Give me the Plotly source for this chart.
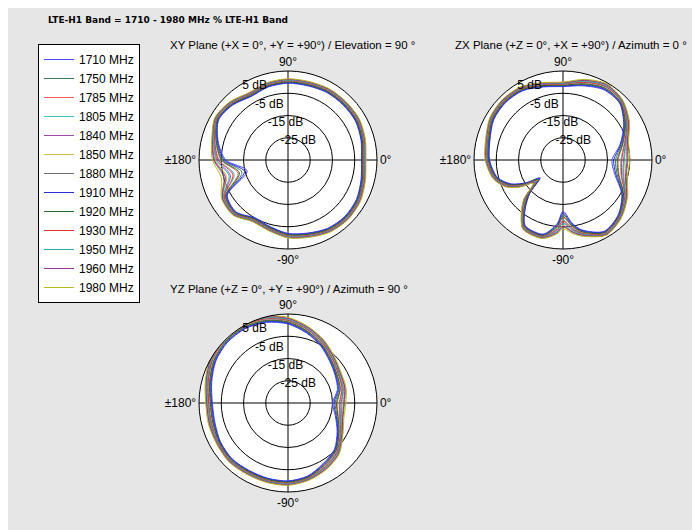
import plotly.graph_objects as go

# Frequencies in the legend, with a colour each
freqs = ["1710 MHz", "1750 MHz", "1785 MHz", "1805 MHz", "1840 MHz", "1850 MHz", "1880 MHz",
         "1910 MHz", "1920 MHz", "1930 MHz", "1950 MHz", "1960 MHz", "1980 MHz"]
colors = ["#4a4aff", "#3f7a5a", "#ff5a5a", "#3fc6c0", "#a04aa8", "#c8c040", "#707070",
          "#2a2ae0", "#2a6a2a", "#e83030", "#30b0b0", "#9a3090", "#b8b820"]
# how far each frequency sits from the middle curve (-1 .. 1, read from the spread)
freq_shift = [-1.0, -0.6, -0.3, 0.0, 0.3, 0.6, 0.8, -0.8, -0.4, 0.1, 0.4, 0.7, 1.0]

# XY plane, gain in dB
xy_angle = [0, 15, 30, 45, 60, 75, 90, 105, 120, 135, 150, 165, 180, 195, 210, 225,
            240, 255, 270, 285, 300, 315, 330, 345]
xy_gain = [-1, 0, 1, 1, 1, 0.5, 0.5, 0, -1, 1, 2, -1, -4, -10, -2, -1,
           -4, -3, -1, 0, 1.5, 2, 1.5, 0]
xy_spread = [1, 1, 1, 1, 1, 1, 1, 1, 1, 1, 1, 1.5, 3, 6, 1.5, 1,
             1, 1, 1, 1, 1, 1, 1, 1]

# ZX plane
zx_angle = [0, 15, 30, 45, 60, 75, 90, 105, 120, 135, 150, 165, 180, 195, 205, 212,
            218, 225, 232, 240, 255, 265, 270, 278, 285, 300, 315, 330, 345]
zx_gain = [-9, -6.5, -2, 2, 3, 1, -1, 0, 2, 2.5, 2, 0, -1, -3.5, -8, -14,
           -20, -12, -6, 0, 0.5, -4, -8, -4, -1, 3, 1, -3, -8]
zx_spread = [4, 2, 1.5, 1, 1.5, 1.5, 1, 1, 1, 1, 1, 1, 1, 1, 1.5, 2,
             2, 2, 1.5, 1, 1, 2.5, 4, 2.5, 1.5, 1, 1, 1.5, 3]

# YZ plane
yz_angle = [0, 15, 30, 45, 60, 75, 90, 105, 120, 135, 150, 165, 180, 195, 210, 225,
            240, 255, 270, 285, 300, 315, 330, 345]
yz_gain = [-12, -10, -9, -7, -4, -1, 2, 4, 5, 5, 4, 2, 0.5, 0.5, 1, 1.5,
           1, 1, 1, 0, -2, -4, -8, -11]
yz_spread = [3, 2, 1.5, 1.5, 1.5, 1.5, 1.5, 1.5, 1.5, 1.5, 1.5, 1.5, 1.5, 1.5, 1, 1,
             1, 1, 1, 1, 1.5, 1.5, 1.5, 2]

planes = [
    ("polar", xy_angle, xy_gain, xy_spread),
    ("polar2", zx_angle, zx_gain, zx_spread),
    ("polar3", yz_angle, yz_gain, yz_spread),
]

fig = go.Figure()

for subplot, angles, gains, spread in planes:
    for i, name in enumerate(freqs):
        r = [g + s * freq_shift[i] for g, s in zip(gains, spread)]
        fig.add_trace(go.Scatterpolar(
            theta=angles + [angles[0]],
            r=r + [r[0]],
            mode="lines",
            line=dict(color=colors[i], width=1, shape="spline", smoothing=0.8),
            name=name,
            legendgroup=name,
            showlegend=(subplot == "polar"),
            subplot=subplot,
        ))

def polar_layout(x0, x1, y0, y1):
    return dict(
        domain=dict(x=[x0 / 700, x1 / 700], y=[1 - y1 / 530, 1 - y0 / 530]),
        bgcolor="white",
        radialaxis=dict(
            range=[-35, 5], tickvals=[-25, -15, -5, 5],
            ticktext=["-25 dB", "-15 dB", "-5 dB", "5 dB"],
            angle=125, tickangle=125, showline=False, gridcolor="black", gridwidth=0.8,
            tickfont=dict(size=12, color="black"), ticks="",
        ),
        angularaxis=dict(
            tickvals=[0, 90, 180, 270], ticktext=["0°", "90°", "±180°", "-90°"],
            direction="counterclockwise", rotation=0, gridcolor="black", gridwidth=0.8,
            linecolor="black", linewidth=1, showline=True, ticks="",
            tickfont=dict(size=12, color="black"),
        ),
    )

fig.update_layout(
    width=700, height=530,
    margin=dict(l=0, r=0, t=0, b=0),
    paper_bgcolor="#e6e6e6",
    font=dict(family="Liberation Sans, Arial", color="black"),
    polar=polar_layout(191, 369, 63, 241),
    polar2=polar_layout(466, 644, 63, 241),
    polar3=polar_layout(191, 369, 306, 484),
    showlegend=True,
    legend=dict(
        x=30 / 700, y=1 - 36 / 530, xanchor="left", yanchor="top",
        bgcolor="white", bordercolor="black", borderwidth=1,
        font=dict(size=12), tracegroupgap=0,
    ),
    annotations=[
        dict(text="<b>LTE-H1 Band = 1710 - 1980 MHz % LTE-H1 Band</b>", x=38 / 700, y=1 - 12 / 530,
             xref="paper", yref="paper", xanchor="left", yanchor="middle", showarrow=False,
             font=dict(size=9, family="DejaVu Sans")),
        dict(text="XY Plane (+X = 0°, +Y = +90°) / Elevation = 90 °", x=160 / 700, y=1 - 45 / 530,
             xref="paper", yref="paper", xanchor="left", yanchor="bottom", showarrow=False,
             font=dict(size=11.5)),
        dict(text="ZX Plane (+Z = 0°, +X = +90°) / Azimuth = 0 °", x=445 / 700, y=1 - 45 / 530,
             xref="paper", yref="paper", xanchor="left", yanchor="bottom", showarrow=False,
             font=dict(size=11.5)),
        dict(text="YZ Plane (+Z = 0°, +Y = +90°) / Azimuth = 90 °", x=160 / 700, y=1 - 289 / 530,
             xref="paper", yref="paper", xanchor="left", yanchor="bottom", showarrow=False,
             font=dict(size=11.5)),
    ],
)

fig.write_html("out.html")
